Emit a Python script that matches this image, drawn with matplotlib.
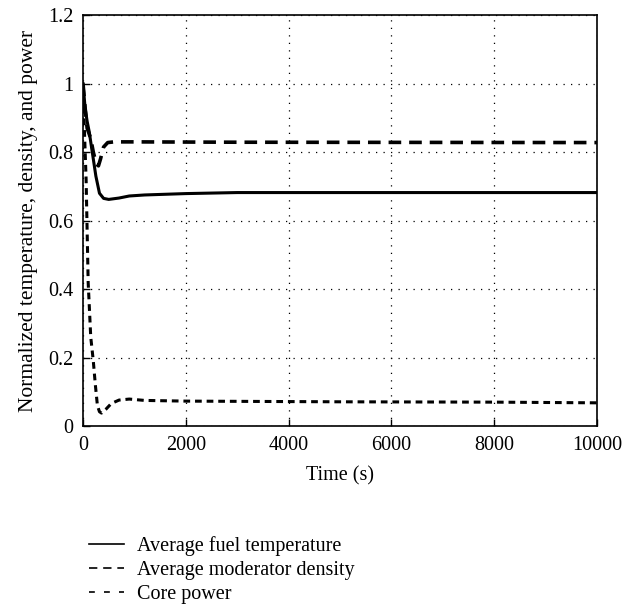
import matplotlib
matplotlib.use("Agg")
import matplotlib.pyplot as plt

# Data
t_fuel = [0, 40, 80, 120, 180, 250, 320, 400, 500, 700, 900, 1200, 2000, 3000, 5000, 10000]
fuel = [1.0, 0.93, 0.89, 0.86, 0.80, 0.73, 0.68, 0.665, 0.662, 0.666, 0.672, 0.675, 0.679, 0.682, 0.682, 0.682]

t_mod = [0, 40, 80, 150, 200, 260, 300, 340, 400, 480, 600, 1000, 3000, 10000]
moderator = [1.0, 0.93, 0.87, 0.84, 0.80, 0.765, 0.76, 0.78, 0.815, 0.828, 0.83, 0.83, 0.829, 0.828]

t_pow = [0, 30, 60, 100, 150, 200, 240, 280, 320, 360, 450, 550, 700, 900, 1200, 2000, 5000, 8000, 10000]
power = [1.0, 0.85, 0.72, 0.42, 0.26, 0.19, 0.12, 0.06, 0.042, 0.038, 0.05, 0.066, 0.076, 0.079, 0.075, 0.073, 0.071, 0.07, 0.068]

labels = ["Average fuel temperature", "Average moderator density", "Core power"]
xticks = [0, 2000, 4000, 6000, 8000, 10000]
yticks = [0, 0.2, 0.4, 0.6, 0.8, 1.0, 1.2]
ytick_labels = ["0", "0.2", "0.4", "0.6", "0.8", "1", "1.2"]

plt.rcParams['font.family'] = ['Liberation Serif', 'DejaVu Serif']
FS = 14.5

fig = plt.figure(figsize=(6.29, 6.07), dpi=100)
ax = fig.add_axes([0.132, 0.298, 0.817, 0.677])

ax.plot(t_fuel, fuel, color='black', lw=2.2, ls='-')
ax.plot(t_mod, moderator, color='black', lw=2.6, ls=(0, (3.5, 2.2)))
ax.plot(t_pow, power, color='black', lw=2.2, ls=(0, (2.2, 1.6)))

ax.set_xlim(0, 10000)
ax.set_ylim(0, 1.2)
ax.set_xticks(xticks)
ax.set_xticklabels([str(x) for x in xticks])
ax.set_yticks(yticks)
ax.set_yticklabels(ytick_labels)
ax.tick_params(direction='in', length=5, width=1, labelsize=FS)
ax.tick_params(axis='y', pad=7)
ax.tick_params(axis='x', pad=7)
ax.grid(True, color='black', ls=(0, (1, 5)), lw=0.9)
for s in ax.spines.values():
    s.set_linewidth(1.2)

ax.set_xlabel("Time (s)", fontsize=FS, labelpad=8)
ax.set_ylabel("Normalized temperature, density, and power", fontsize=15.5, labelpad=7)

h1 = plt.Line2D([], [], color='black', lw=1.2, ls='-')
h2 = plt.Line2D([], [], color='black', lw=1.2, ls=(0, (5, 3.5)))
h3 = plt.Line2D([], [], color='black', lw=1.2, ls=(0, (3.5, 5.5)))
fig.legend([h1, h2, h3], labels, loc='upper left', bbox_to_anchor=(0.129, 0.13),
           frameon=False, fontsize=FS, handlelength=1.74, handletextpad=0.65,
           labelspacing=0.25, borderaxespad=0)

fig.savefig("out.png", dpi=100)
